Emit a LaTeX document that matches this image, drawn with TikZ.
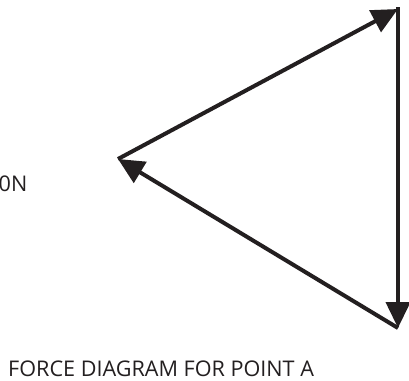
\documentclass[tikz,border=0pt]{standalone}
\usepackage{fontspec}
\setmainfont{Open Sans}
\usetikzlibrary{arrows.meta}
\definecolor{ink}{HTML}{231F20}
\tikzset{
  force/.style={draw=ink, line width=4pt, line join=miter,
    -{Triangle[length=26pt, width=24pt]}},
  label/.style={inner sep=0pt, anchor=base west, text=ink, text depth=0pt,
    font=\fontsize{21.6}{26}\selectfont}
}
\begin{document}
\begin{tikzpicture}[x=1pt, y=-1pt]
  \useasboundingbox (0,0) rectangle (409,380);
  \coordinate (T) at (398,9);
  \coordinate (B) at (398,328);
  \coordinate (L) at (118,159);
  \draw[force] (L) -- (T);
  \draw[force] ([yshift=2pt]T) -- (B);
  \draw[force] (B) -- (L);
  \node[label] (mag) at (-1.5,191.8) {0N};
  \node[label] (cap) at (8,376) {FORCE DIAGRAM FOR POINT A};
\end{tikzpicture}
\end{document}
